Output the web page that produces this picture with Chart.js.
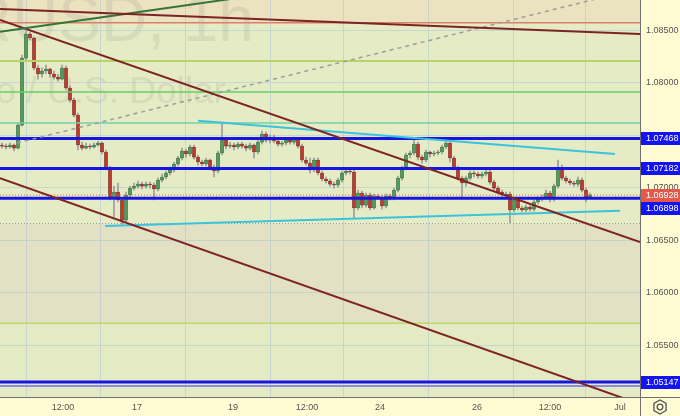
<!DOCTYPE html>
<html>
<head>
<meta charset="utf-8">
<script src="https://cdn.jsdelivr.net/npm/chart.js@4.4.0/dist/chart.umd.min.js"></script>
<style>
  html, body { margin: 0; padding: 0; background: #fffbd2; }
  #wrap { width: 680px; height: 416px; }
</style>
</head>
<body>
<div id="wrap"><canvas id="chart"></canvas></div>
<script>
// EURUSD 1h candles (one per hour, left to right)
const opens = [
  1.07405,1.07395,1.07386,1.07405,1.07376,1.07595,1.08233,1.08462,1.08424,1.08138,
  1.08081,1.08110,1.08129,1.08081,1.08052,1.08033,1.08138,1.07948,1.07833,1.07690,
  1.07405,1.07376,1.07395,1.07386,1.07405,1.07424,1.07338,1.07186,1.06900,1.06957,
  1.06881,1.06690,1.06929,1.06995,1.07014,1.07033,1.07014,1.07033,1.07024,1.06986,
  1.07071,1.07100,1.07138,1.07167,1.07224,1.07281,1.07348,1.07319,1.07386,1.07290,
  1.07243,1.07224,1.07262,1.07195,1.07157,1.07329,1.07452,1.07395,1.07405,1.07386,
  1.07414,1.07395,1.07376,1.07405,1.07338,1.07433,1.07510,1.07452,1.07481,1.07443,
  1.07414,1.07424,1.07452,1.07433,1.07462,1.07395,1.07262,1.07233,1.07167,1.07262,
  1.07138,1.07081,1.07062,1.07033,1.07024,1.07071,1.07138,1.07157,1.07148,1.06805,
  1.06948,1.06833,1.06929,1.06805,1.06919,1.06910,1.06824,1.06919,1.06900,1.06976,
  1.07090,1.07186,1.07310,1.07329,1.07414,1.07290,1.07262,1.07338,1.07319,1.07329,
  1.07338,1.07386,1.07424,1.07281,1.07186,1.07090,1.07043,1.07090,1.07138,1.07129,
  1.07110,1.07129,1.07148,1.07052,1.06995,1.06957,1.06929,1.06938,1.06786,1.06881,
  1.06805,1.06786,1.06814,1.06795,1.06862,1.06890,1.06910,1.06948,1.06890,1.07014,
  1.07186,1.07090,1.07062,1.07043,1.07033,1.07071,1.06976,1.06910
];
const highs = [
  1.07424,1.07414,1.07424,1.07414,1.07614,1.08262,1.08490,1.08481,1.08433,1.08167,
  1.08138,1.08167,1.08138,1.08110,1.08081,1.08167,1.08157,1.07967,1.07852,1.07710,
  1.07433,1.07424,1.07414,1.07424,1.07443,1.07433,1.07357,1.07205,1.07014,1.07043,
  1.06900,1.06957,1.07014,1.07043,1.07062,1.07052,1.07052,1.07052,1.07043,1.07090,
  1.07129,1.07157,1.07195,1.07243,1.07300,1.07376,1.07367,1.07405,1.07405,1.07310,
  1.07262,1.07281,1.07271,1.07214,1.07348,1.07614,1.07471,1.07433,1.07424,1.07433,
  1.07433,1.07414,1.07424,1.07414,1.07452,1.07538,1.07529,1.07500,1.07500,1.07462,
  1.07443,1.07471,1.07471,1.07481,1.07471,1.07414,1.07290,1.07281,1.07281,1.07281,
  1.07157,1.07100,1.07081,1.07052,1.07090,1.07157,1.07176,1.07186,1.07167,1.06976,
  1.06967,1.06948,1.06948,1.06938,1.06938,1.06929,1.06938,1.06938,1.06995,1.07110,
  1.07205,1.07329,1.07348,1.07452,1.07433,1.07310,1.07357,1.07348,1.07348,1.07357,
  1.07405,1.07443,1.07443,1.07300,1.07205,1.07110,1.07110,1.07157,1.07157,1.07148,
  1.07148,1.07167,1.07167,1.07071,1.07014,1.06976,1.06957,1.06957,1.06900,1.06900,
  1.06824,1.06833,1.06833,1.06881,1.06910,1.06929,1.06976,1.06967,1.07033,1.07262,
  1.07214,1.07110,1.07081,1.07062,1.07100,1.07090,1.06995,1.06948
];
const lows = [
  1.07376,1.07367,1.07376,1.07348,1.07367,1.07586,1.08214,1.08405,1.08119,1.08033,
  1.08052,1.08081,1.08052,1.08033,1.08014,1.08024,1.07929,1.07814,1.07671,1.07357,
  1.07357,1.07367,1.07367,1.07376,1.07395,1.07319,1.07167,1.06881,1.06719,1.06862,
  1.06652,1.06671,1.06910,1.06976,1.06995,1.06986,1.06995,1.06995,1.06881,1.06967,
  1.07052,1.07081,1.07119,1.07148,1.07205,1.07262,1.07290,1.07300,1.07271,1.07214,
  1.07205,1.07205,1.07167,1.07100,1.07138,1.07310,1.07367,1.07376,1.07357,1.07367,
  1.07376,1.07348,1.07357,1.07281,1.07319,1.07414,1.07433,1.07424,1.07424,1.07395,
  1.07395,1.07405,1.07414,1.07414,1.07376,1.07243,1.07214,1.07138,1.07148,1.07119,
  1.07062,1.07043,1.07014,1.06995,1.07005,1.07052,1.07119,1.07129,1.06710,1.06786,
  1.06805,1.06814,1.06786,1.06795,1.06890,1.06795,1.06805,1.06881,1.06881,1.06957,
  1.07071,1.07167,1.07281,1.07310,1.07262,1.07233,1.07243,1.07290,1.07300,1.07310,
  1.07319,1.07367,1.07243,1.07167,1.07071,1.06910,1.07014,1.07071,1.07100,1.07090,
  1.07090,1.07110,1.07033,1.06976,1.06938,1.06900,1.06910,1.06662,1.06767,1.06786,
  1.06767,1.06767,1.06776,1.06776,1.06843,1.06871,1.06890,1.06862,1.06871,1.06995,
  1.07071,1.07043,1.07024,1.07014,1.07014,1.06957,1.06862,1.06900
];
const closes = [
  1.07395,1.07386,1.07405,1.07376,1.07595,1.08233,1.08462,1.08424,1.08138,1.08081,
  1.08110,1.08129,1.08081,1.08052,1.08033,1.08138,1.07948,1.07833,1.07690,1.07405,
  1.07376,1.07395,1.07386,1.07405,1.07424,1.07338,1.07186,1.06900,1.06957,1.06881,
  1.06690,1.06929,1.06995,1.07014,1.07033,1.07014,1.07033,1.07024,1.06986,1.07071,
  1.07100,1.07138,1.07167,1.07224,1.07281,1.07348,1.07319,1.07386,1.07290,1.07243,
  1.07224,1.07262,1.07195,1.07157,1.07329,1.07452,1.07395,1.07405,1.07386,1.07414,
  1.07395,1.07376,1.07405,1.07338,1.07433,1.07510,1.07452,1.07481,1.07443,1.07414,
  1.07424,1.07452,1.07433,1.07462,1.07395,1.07262,1.07233,1.07167,1.07262,1.07138,
  1.07081,1.07062,1.07033,1.07024,1.07071,1.07138,1.07157,1.07148,1.06805,1.06948,
  1.06833,1.06929,1.06805,1.06919,1.06910,1.06824,1.06919,1.06900,1.06976,1.07090,
  1.07186,1.07310,1.07329,1.07414,1.07290,1.07262,1.07338,1.07319,1.07329,1.07338,
  1.07386,1.07424,1.07281,1.07186,1.07090,1.07043,1.07090,1.07138,1.07129,1.07110,
  1.07129,1.07148,1.07052,1.06995,1.06957,1.06929,1.06938,1.06786,1.06881,1.06805,
  1.06786,1.06814,1.06795,1.06862,1.06890,1.06910,1.06948,1.06890,1.07014,1.07186,
  1.07090,1.07062,1.07043,1.07033,1.07071,1.06976,1.06910,1.06928
];

// time axis (bar index where each label sits)
const timeLabels = ['12:00', '17', '19', '12:00', '24', '26', '12:00', 'Jul'];
const timeTicks = [15.25, 33.75, 57.75, 76.25, 94.5, 118.75, 137, 154.5];
const barRange = [-0.5, 159.5];

// price axis
const priceRange = [1.05005, 1.08786];
const priceTicks = [1.085, 1.08, 1.075, 1.07, 1.065, 1.06, 1.055];

// horizontal drawings
const levels = [1.0857, 1.08205, 1.0791, 1.07614, 1.07468, 1.07182, 1.06898, 1.06657, 1.05707, 1.05147, 1.0511];
const levelLabels = [1.07468, 1.07182, 1.06898, 1.05147];
const lastPrice = 1.06928;
// shaded zones: boundaries from top to bottom
const zoneEdges = [1.0857, 1.06657, 1.05707];

// trend lines: [fromBar, fromPrice, toBar, toPrice]
const trendLines = [
  [-0.5, 1.08700, 159.5, 1.08462],
  [-0.5, 1.08484, 62, 1.08822],
  [-0.5, 1.08595, 159.5, 1.06481],
  [-0.5, 1.07090, 159.5, 1.04938],
  [3.75, 1.07424, 159.5, 1.08900],
  [49, 1.07636, 153.25, 1.07319],
  [25.75, 1.06633, 154.5, 1.06779]
];

const levelStyle = [
  ['#db7f6e', 1.5, []], ['#b5d564', 2, []], ['#66cc66', 1.5, []], ['#72d0a4', 1.5, []],
  ['#1616e0', 3, []], ['#1616e0', 3, []], ['#1616e0', 3, []],
  ['#9a9a9a', 1, [1, 2]], ['#bcd96a', 1.5, []], ['#1616e0', 3, []], ['#8c8ce8', 2, []]
];
const trendStyle = [
  ['#7e2323', 2, []], ['#357535', 2, []], ['#7e2323', 2, []], ['#7e2323', 2, []],
  ['#9d9d9d', 1.5, [4, 4]], ['#3cc3dc', 2, []], ['#3cc3dc', 2, []]
];
const zoneColors = ['#ebe2c0', '#e5ebc5', '#e2e1c6', '#e3eac4'];

const FONT = 'Liberation Sans, Arial, sans-serif';
const upFill = '#4f9d5d', upLine = '#25582f', downFill = '#c4392c', downLine = '#611a12';

const datasets = [];
levels.forEach(function (p, i) {
  datasets.push({
    type: 'line', data: [{x: barRange[0], y: p}, {x: barRange[1], y: p}],
    borderColor: levelStyle[i][0], borderWidth: levelStyle[i][1], borderDash: levelStyle[i][2],
    pointRadius: 0, clip: 0, order: 2
  });
});
trendLines.forEach(function (t, i) {
  datasets.push({
    type: 'line', data: [{x: t[0], y: t[1]}, {x: t[2], y: t[3]}],
    borderColor: trendStyle[i][0], borderWidth: trendStyle[i][1], borderDash: trendStyle[i][2],
    pointRadius: 0, clip: 0, order: 1
  });
});
datasets.push({
  type: 'line', data: [{x: barRange[0], y: lastPrice}, {x: barRange[1], y: lastPrice}],
  borderColor: '#e2643f', borderWidth: 1, borderDash: [1, 2], pointRadius: 0, clip: 0, order: 3
});
datasets.push({
  type: 'bar', grouped: false, barThickness: 1, clip: 0, order: 6,
  data: lows.map((l, i) => ({x: i, y: [l, highs[i]]})),
  backgroundColor: '#9c9c9c'
});
datasets.push({
  type: 'bar', grouped: false, barThickness: 3, clip: 0, order: 5,
  data: closes.map((c, i) => ({x: i, y: [opens[i], c]})),
  backgroundColor: closes.map((c, i) => c >= opens[i] ? upFill : downFill),
  borderColor: closes.map((c, i) => c >= opens[i] ? upLine : downLine),
  borderWidth: 0.6, borderSkipped: false
});

const paintPlugin = {
  id: 'paint',
  beforeDraw(chart) {
    const ctx = chart.ctx, a = chart.chartArea, y = chart.scales.y;
    ctx.save();
    ctx.fillStyle = '#fffbd2';
    ctx.fillRect(0, 0, chart.width, chart.height);
    const edges = [a.top].concat(zoneEdges.map(p => y.getPixelForValue(p)), [a.bottom]);
    for (let i = 0; i < zoneColors.length; i++) {
      ctx.fillStyle = zoneColors[i];
      ctx.fillRect(a.left, edges[i], a.right - a.left, edges[i + 1] - edges[i]);
    }
    // watermark
    ctx.beginPath();
    ctx.rect(a.left, a.top, a.right - a.left, a.bottom - a.top);
    ctx.clip();
    ctx.fillStyle = 'rgba(110,110,110,0.12)';
    ctx.font = '64px ' + FONT;
    ctx.textBaseline = 'alphabetic';
    const lead = ctx.measureText('EUR').width;
    ctx.fillText('EURUSD, 1h', 12 - lead, 41);
    ctx.font = '37px ' + FONT;
    const lead2 = ctx.measureText('Euro / ').width;
    ctx.fillText('Euro / U.S. Dollar', 47 - lead2, 103);
    ctx.restore();
  },
  afterDraw(chart) {
    const ctx = chart.ctx, a = chart.chartArea, y = chart.scales.y;
    ctx.save();
    ctx.strokeStyle = '#6f6f6f';
    ctx.lineWidth = 1;
    ctx.beginPath();
    ctx.moveTo(a.right + 0.5, 0); ctx.lineTo(a.right + 0.5, chart.height);
    ctx.moveTo(0, a.bottom + 0.5); ctx.lineTo(chart.width, a.bottom + 0.5);
    ctx.stroke();

    // price badges, pushed apart when they overlap
    const h = 13;
    const tags = [{v: lastPrice, c: '#e25a4c'}].concat(levelLabels.map(v => ({v: v, c: '#1414f0'})));
    tags.forEach(t => { t.y = y.getPixelForValue(t.v); });
    tags.sort((p, q) => p.y - q.y);
    let prev = null;
    tags.forEach(t => {
      if (prev && t.y - prev.y < h) t.y = prev.y + h;
      prev = t;
    });
    ctx.font = '9px ' + FONT;
    ctx.textBaseline = 'middle';
    ctx.textAlign = 'left';
    tags.forEach(t => {
      ctx.fillStyle = t.c;
      ctx.fillRect(a.right + 1, Math.round(t.y - h / 2), chart.width - a.right - 1, h);
      ctx.fillStyle = '#ffffff';
      ctx.fillText(t.v.toFixed(5), a.right + 6, t.y + 0.5);
    });

    // settings icon
    const cx = a.right + 20, cy = a.bottom + 10;
    ctx.strokeStyle = '#555';
    ctx.lineWidth = 1.3;
    ctx.beginPath();
    for (let k = 0; k < 6; k++) {
      const ang = Math.PI / 6 + k * Math.PI / 3;
      const px = cx + 7 * Math.cos(ang), py = cy + 7 * Math.sin(ang);
      if (k === 0) ctx.moveTo(px, py); else ctx.lineTo(px, py);
    }
    ctx.closePath();
    ctx.stroke();
    ctx.beginPath();
    ctx.arc(cx, cy, 2.8, 0, Math.PI * 2);
    ctx.stroke();
    ctx.restore();
  }
};

function noEdgePadding(s) {
  s.paddingTop = 0; s.paddingBottom = 0; s.paddingLeft = 0; s.paddingRight = 0;
}

new Chart(document.getElementById('chart'), {
  type: 'bar',
  data: {datasets: datasets},
  options: {
    responsive: true,
    maintainAspectRatio: false,
    animation: false,
    layout: {padding: 0},
    plugins: {legend: {display: false}, tooltip: {enabled: false}},
    scales: {
      x: {
        type: 'linear', min: barRange[0], max: barRange[1], offset: false,
        border: {display: false},
        grid: {color: 'rgba(165,190,215,0.45)', drawTicks: false},
        afterBuildTicks: s => { s.ticks = timeTicks.map(v => ({value: v})); },
        afterFit: s => { s.height = 19; noEdgePadding(s); },
        ticks: {
          autoSkip: false, maxRotation: 0, padding: 5,
          color: '#555', font: {family: FONT, size: 9},
          callback: (v, i) => timeLabels[i]
        }
      },
      y: {
        type: 'linear', position: 'right', min: priceRange[0], max: priceRange[1],
        border: {display: false},
        grid: {color: 'rgba(165,190,215,0.45)', drawTicks: false},
        afterBuildTicks: s => { s.ticks = priceTicks.map(v => ({value: v})); },
        afterFit: s => { s.width = 40; noEdgePadding(s); },
        ticks: {
          padding: 6, color: '#555', font: {family: FONT, size: 9},
          callback: v => v.toFixed(5)
        }
      }
    }
  },
  plugins: [paintPlugin]
});
</script>
</body>
</html>
